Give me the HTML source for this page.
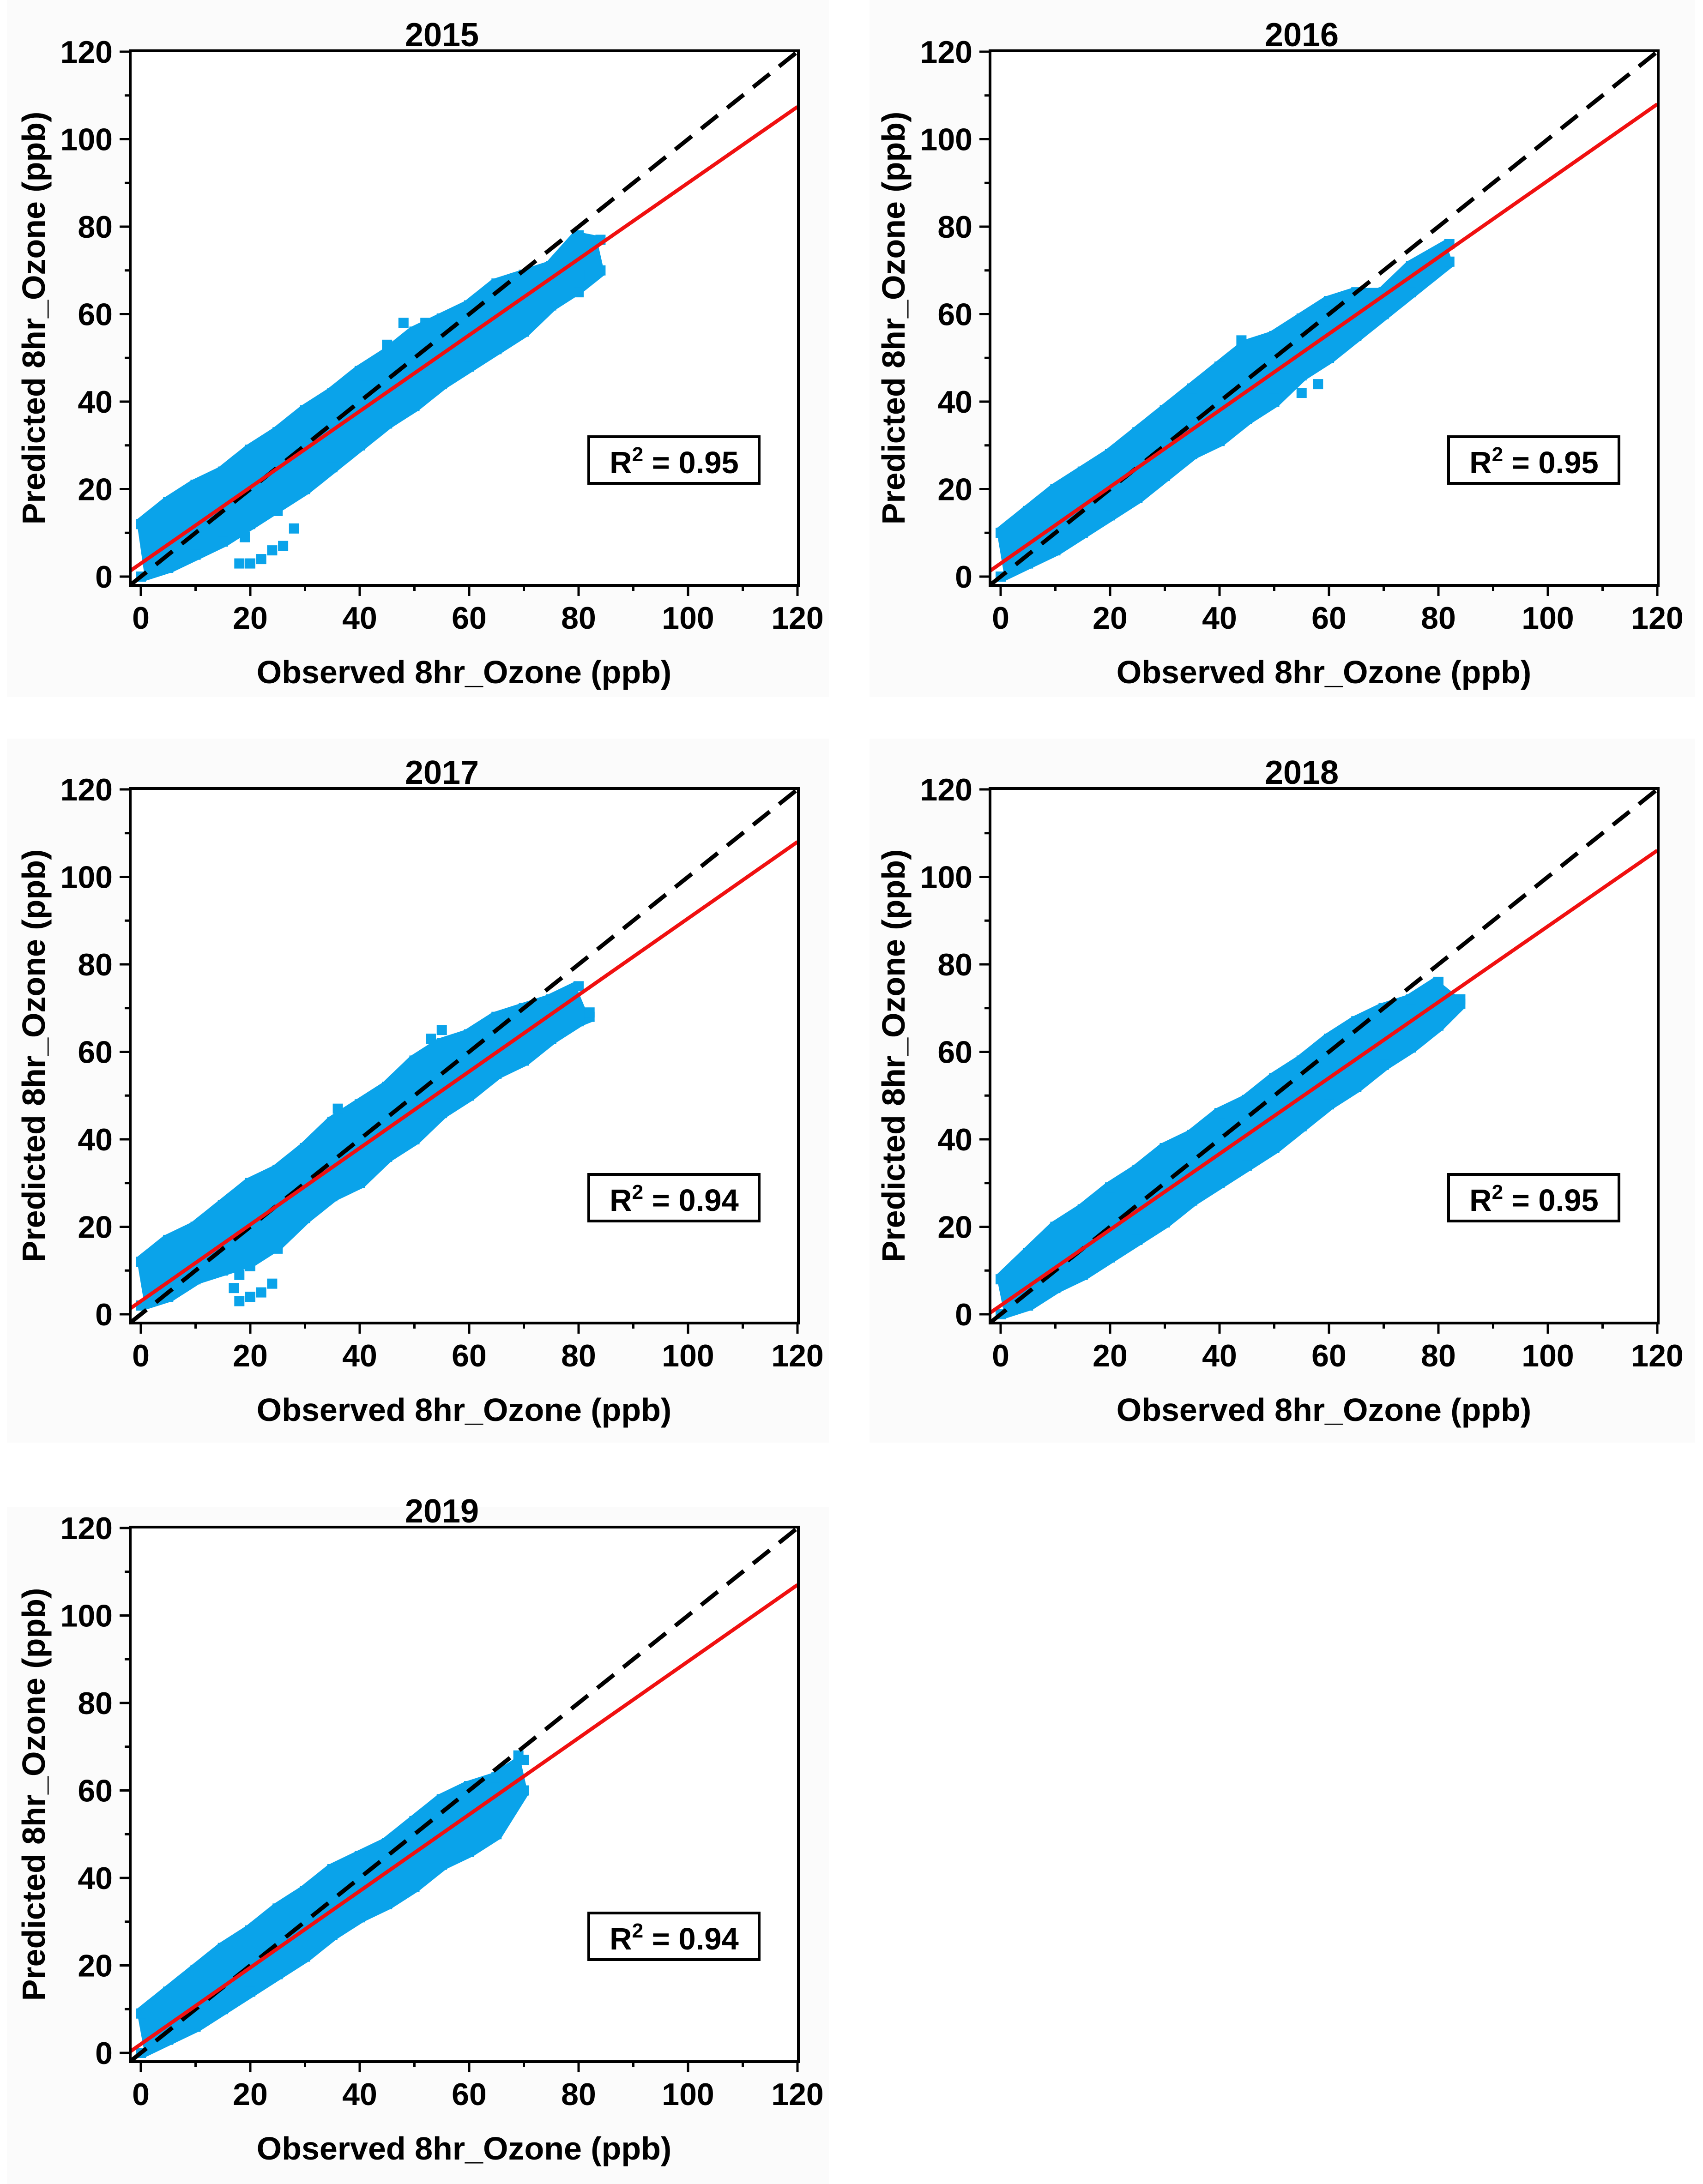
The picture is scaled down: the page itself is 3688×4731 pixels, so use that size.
<!DOCTYPE html>
<html><head><meta charset="utf-8">
<style>
html,body{margin:0;padding:0;background:#fff;}
svg{display:block;}
text{font-family:"Liberation Sans",Arial,sans-serif;font-weight:bold;fill:#000;}
</style></head>
<body>
<svg id="fig" xmlns="http://www.w3.org/2000/svg" width="3688" height="4731" viewBox="0 0 3688 4731"></svg>
<script>
// ---- data ----
const years = ["2015","2016","2017","2018","2019"];
const r2Labels = ["0.95","0.95","0.94","0.95","0.94"];
const fitIntercept = [3, 3, 3, 2, 2];
const fitSlope = [0.870, 0.875, 0.875, 0.867, 0.875];
const xTicks = [0,20,40,60,80,100,120];
const yTicks = [0,20,40,60,80,100,120];
const minorTicks = [10,30,50,70,90,110];

// band of the scatter cloud: observed value, lowest and highest predicted
const obs2015 = [0,5,10,15,20,25,30,35,40,45,50,55,60,65,70,75,80,84];
const lo2015  = [0,2,5,8,12,16,20,25,30,35,39,44,48,52,56,62,66,70];
const hi2015  = [12,17,21,24,29,33,38,42,47,51,56,59,62,67,69,71,78,77];
const outX2015 = [18,20,22,24,26,28,25,19,45,52,48,41,80,82];
const outY2015 = [3,3,4,6,7,11,15,9,53,58,58,46,65,69];

const obs2016 = [0,5,10,15,20,25,30,35,40,45,50,55,60,65,70,75,82];
const lo2016  = [0,3,6,10,14,18,23,28,31,36,40,46,50,55,60,65,72];
const hi2016  = [10,15,20,24,28,33,38,43,48,53,55,59,63,65,65,71,76];
const outX2016 = [50,55,44,58,52];
const outY2016 = [43,42,54,44,44];

const obs2017 = [0,5,10,15,20,25,30,35,40,45,50,55,60,65,70,75,80,82];
const lo2017  = [2,4,8,10,12,16,22,27,30,36,40,46,50,55,58,63,67,68];
const hi2017  = [12,17,20,25,30,33,38,44,48,52,58,62,64,68,70,72,75,69];
const outX2017 = [18,20,22,24,18,20,17,36,53,55,25,26];
const outY2017 = [3,4,5,7,9,11,6,47,63,65,15,19];

const obs2018 = [0,5,10,15,20,25,30,35,40,45,50,55,60,65,70,75,80,84];
const lo2018  = [0,2,6,9,13,17,21,26,30,34,38,43,48,52,57,61,66,71];
const hi2018  = [8,14,20,24,29,33,38,41,46,49,54,58,63,67,70,72,76,72];
const outX2018 = [];
const outY2018 = [];

const obs2019 = [0,5,10,15,20,25,30,35,40,45,50,55,60,65,70];
const lo2019  = [0,3,6,10,14,18,22,27,31,34,38,43,46,50,60];
const hi2019  = [9,14,19,24,28,33,37,42,45,48,53,58,61,63,67];
const outX2019 = [68,69,66];
const outY2019 = [64,68,58];

const bandObs = [obs2015,obs2016,obs2017,obs2018,obs2019];
const bandLo = [lo2015,lo2016,lo2017,lo2018,lo2019];
const bandHi = [hi2015,hi2016,hi2017,hi2018,hi2019];
const outXs = [outX2015,outX2016,outX2017,outX2018,outX2019];
const outYs = [outY2015,outY2016,outY2017,outY2018,outY2019];

// ---- layout ----
const NS = "http://www.w3.org/2000/svg";
const svg = document.getElementById('fig');
const origins = [[0,0],[1862,0],[0,1598],[1862,1598],[0,3198]];
const FL=282, FR=1729, FT=110, FB=1268;
const X0=305, Y0=1249, XS=(1727-305)/120, YS=(1249-112)/120;
const BLUE="#0aa3ea";

function el(tag, attrs, parent){
  const e=document.createElementNS(NS,tag);
  for(const k in attrs) e.setAttribute(k,attrs[k]);
  parent.appendChild(e); return e;
}

const bgBoxes=[[15,0,1795,1510],[1883,0,3670,1510],[15,1600,1795,3125],[1883,1600,3670,3125],[15,3264,1795,4731]];
bgBoxes.forEach(b=>{
  const r=el('rect',{x:b[0],y:b[1],width:b[2]-b[0],height:b[3]-b[1],fill:'#fbfbfb'},svg);
  
  
});

years.forEach((yr,i)=>{
  const [ox,oy]=origins[i];
  const g=el('g',{transform:`translate(${ox},${oy})`},svg);
  
  
  const sx=v=>X0+v*XS, sy=v=>Y0-v*YS;

  const plot=el('rect',{x:FL,y:FT,width:FR-FL,height:FB-FT,fill:'#fff'},g);
  
  

  const cp=el('clipPath',{id:'cp'+i},g);
  el('rect',{x:FL,y:FT,width:FR-FL,height:FB-FT},cp);
  const data=el('g',{'clip-path':`url(#cp${i})`},g);
  
  

  const ob=bandObs[i], lo=bandLo[i], hi=bandHi[i];
  let pts=[];
  ob.forEach((o,k)=>pts.push(`${sx(o-0.8)},${sy(hi[k]+1)}`));
  for(let k=ob.length-1;k>=0;k--) pts.push(`${sx(ob[k]+0.8)},${sy(lo[k]-1)}`);
  const band=el('polygon',{points:pts.join(' '),fill:BLUE},data);
  
  
  const sq=22;
  ob.forEach((o,k)=>{
    [lo[k],hi[k]].forEach(v=>{
      const m=el('rect',{x:sx(o)-sq/2,y:sy(v)-sq/2,width:sq,height:sq,fill:BLUE},data);
      
      
    });
  });
  outXs[i].forEach((o,k)=>{
    const m=el('rect',{x:sx(o)-sq/2,y:sy(outYs[i][k])-sq/2,width:sq,height:sq,fill:BLUE},data);
    
    
  });

  const d=el('line',{x1:sx(-2),y1:sy(-2),x2:sx(120),y2:sy(120),stroke:'#000','stroke-width':9,'stroke-dasharray':'46 26'},data);
  
  
  const a=fitIntercept[i], b=fitSlope[i];
  const f=el('line',{x1:sx(-2),y1:sy(a+b*-2),x2:sx(120),y2:sy(a+b*120),stroke:'#f01010','stroke-width':8},data);
  
  

  const fr=el('rect',{x:FL,y:FT,width:FR-FL,height:FB-FT,fill:'none',stroke:'#000','stroke-width':6},g);
  
  

  xTicks.forEach(t=>{
    const l=el('line',{x1:sx(t),y1:FB,x2:sx(t),y2:FB+23,stroke:'#000','stroke-width':5},g);
    
    
    const tx=el('text',{x:sx(t),y:1362,'font-size':68,'text-anchor':'middle'},g);
    tx.textContent=t;
    
    
  });
  yTicks.forEach(t=>{
    const l=el('line',{x1:FL-23,y1:sy(t),x2:FL,y2:sy(t),stroke:'#000','stroke-width':5},g);
    
    
    const tx=el('text',{x:244,y:sy(t)+24,'font-size':68,'text-anchor':'end'},g);
    tx.textContent=t;
    
    
  });
  minorTicks.forEach(t=>{
    const l=el('line',{x1:sx(t),y1:FB,x2:sx(t),y2:FB+12,stroke:'#000','stroke-width':5},g);
    
    
    const l2=el('line',{x1:FL-12,y1:sy(t),x2:FL,y2:sy(t),stroke:'#000','stroke-width':5},g);
    
    
  });

  const ti=el('text',{x:957,y:100,'font-size':72,'text-anchor':'middle'},g);
  ti.textContent=yr;
  
  
  const xt=el('text',{x:1005,y:1480,'font-size':70,'text-anchor':'middle'},g);
  xt.textContent='Observed 8hr_Ozone (ppb)';
  
  
  const yt=el('text',{x:0,y:0,'font-size':70,'text-anchor':'middle',transform:'translate(97,689) rotate(-90)'},g);
  yt.textContent='Predicted 8hr_Ozone (ppb)';
  
  

  const bx=el('rect',{x:FL+993,y:FT+836,width:369,height:101,fill:'#fff',stroke:'#000','stroke-width':6},g);
  
  
  const rt=el('text',{x:FL+1178,y:FT+915,'font-size':67,'text-anchor':'middle'},g);
  rt.innerHTML='R<tspan dy="-26" font-size="44">2</tspan><tspan dy="26"> = '+r2Labels[i]+'</tspan>';
  
  
});
</script>
</body></html>
